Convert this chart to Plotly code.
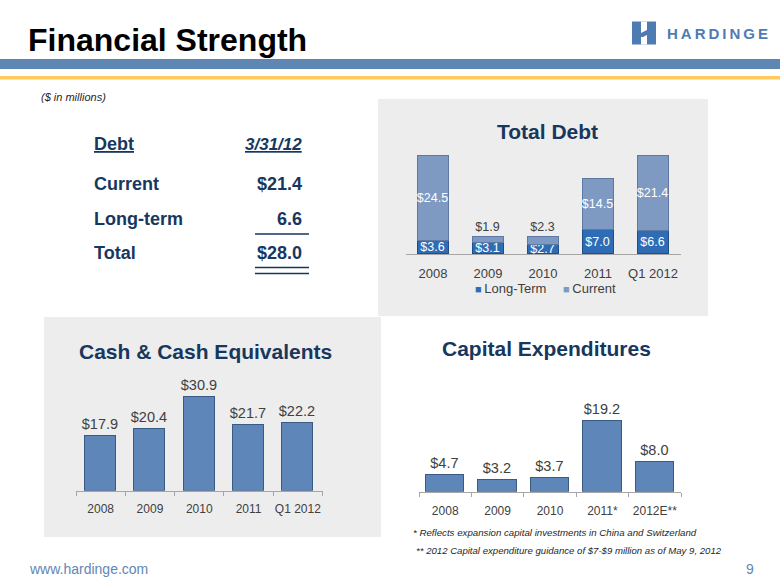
import plotly.graph_objects as go

W, H = 780, 585

def X(px):
    return px / W

def Y(py):
    return 1 - py / H

FONT = "Arial, Liberation Sans, sans-serif"
NAVY = "#17375E"
GREY_TXT = "#404040"
C_LONG = "#2E6DB5"
C_CUR = "#7F9AC2"

# ---------------- data ----------------
debt_cats = ["2008", "2009", "2010", "2011", "Q1 2012"]
debt_long = [3.6, 3.1, 2.7, 7.0, 6.6]
debt_current = [24.5, 1.9, 2.3, 14.5, 21.4]

cash_cats = ["2008", "2009", "2010", "2011", "Q1 2012"]
cash_vals = [17.9, 20.4, 30.9, 21.7, 22.2]

capex_cats = ["2008", "2009", "2010", "2011*", "2012E**"]
capex_vals = [4.7, 3.2, 3.7, 19.2, 8.0]

table_rows = ["Current", "Long-term", "Total"]
table_vals = ["$21.4", "6.6", "$28.0"]

fig = go.Figure()

# ---------------- Total Debt (stacked) ----------------
cur_pos = ["outside" if v < 5 else "inside" for v in debt_current]
fig.add_trace(go.Bar(
    x=debt_cats, y=debt_long, name="Long-Term", showlegend=False,
    marker=dict(color=C_LONG, line=dict(color="#1F4F8A", width=1)),
    text=[f"${v:.1f}" for v in debt_long], textposition="inside",
    insidetextanchor="middle", textangle=0, constraintext="none",
    insidetextfont=dict(color="white", size=12.5, family=FONT),
    width=0.58, xaxis="x", yaxis="y", hoverinfo="skip",
))
fig.add_trace(go.Bar(
    x=debt_cats, y=debt_current, name="Current", showlegend=False,
    marker=dict(color=C_CUR, line=dict(color="#5C78A3", width=1)),
    text=[f"${v:.1f}" for v in debt_current], textposition=cur_pos,
    insidetextanchor="middle", textangle=0, constraintext="none",
    insidetextfont=dict(color="white", size=12.5, family=FONT),
    outsidetextfont=dict(color=GREY_TXT, size=12.5, family=FONT),
    width=0.58, xaxis="x", yaxis="y", hoverinfo="skip",
))

# ---------------- Cash ----------------
fig.add_trace(go.Bar(
    x=cash_cats, y=cash_vals, showlegend=False,
    marker=dict(color="#5E86B9", line=dict(color="#3A5A86", width=1.2)),
    text=[f"${v:.1f}" for v in cash_vals], textposition="outside",
    textangle=0, constraintext="none",
    outsidetextfont=dict(color=GREY_TXT, size=14.5, family=FONT),
    width=0.63, xaxis="x2", yaxis="y2", hoverinfo="skip", cliponaxis=False,
))

# ---------------- Capex ----------------
fig.add_trace(go.Bar(
    x=capex_cats, y=capex_vals, showlegend=False,
    marker=dict(color="#5E86B9", line=dict(color="#3A5A86", width=1.2)),
    text=[f"${v:.1f}" for v in capex_vals], textposition="outside",
    textangle=0, constraintext="none",
    outsidetextfont=dict(color=GREY_TXT, size=14.5, family=FONT),
    width=0.73, xaxis="x3", yaxis="y3", hoverinfo="skip", cliponaxis=False,
))

xcommon = dict(type="category", showgrid=False, zeroline=False, showline=True,
               linecolor="#A6A6A6", linewidth=1, tickson="boundaries",
               ticks="outside", ticklen=4, tickcolor="#A6A6A6", tickangle=0,
               fixedrange=True)
ycommon = dict(visible=False, showgrid=False, zeroline=False, fixedrange=True)

shapes = []
# header bands
shapes.append(dict(type="rect", xref="paper", yref="paper", x0=0, x1=1,
                   y0=Y(69), y1=Y(59), fillcolor="#5F87B4", line=dict(width=0), layer="below"))
shapes.append(dict(type="rect", xref="paper", yref="paper", x0=0, x1=1,
                   y0=Y(79.5), y1=Y(76), fillcolor="#FFC95C", line=dict(width=0), layer="below"))
# panels
shapes.append(dict(type="rect", xref="paper", yref="paper", x0=X(378), x1=X(708),
                   y0=Y(316), y1=Y(99), fillcolor="#EDEDED", line=dict(width=0), layer="below"))
shapes.append(dict(type="rect", xref="paper", yref="paper", x0=X(44), x1=X(381),
                   y0=Y(537), y1=Y(317), fillcolor="#EDEDED", line=dict(width=0), layer="below"))
# logo icon
shapes.append(dict(type="rect", xref="paper", yref="paper", x0=X(632), x1=X(656),
                   y0=Y(44.5), y1=Y(21.5), fillcolor="#4F7BB3", line=dict(width=0)))
def path(pts):
    return "M " + " L ".join(f"{X(a)},{Y(b)}" for a, b in pts) + " Z"
shapes.append(dict(type="path", xref="paper", yref="paper",
                   path=path([(641, 21.5), (647, 21.5), (647, 30), (641, 33)]),
                   fillcolor="white", line=dict(width=0)))
shapes.append(dict(type="path", xref="paper", yref="paper",
                   path=path([(641, 44.5), (647, 44.5), (647, 35), (643, 37), (641, 37)]),
                   fillcolor="white", line=dict(width=0)))
# table underlines
for yy in [234, 267.5, 273.5]:
    shapes.append(dict(type="line", xref="paper", yref="paper", x0=X(255), x1=X(309),
                       y0=Y(yy), y1=Y(yy), line=dict(color=NAVY, width=1.6)))

ann = []
def text(x, y, s, size, color, bold=False, italic=False, xanchor="left", **kw):
    if bold:
        s = f"<b>{s}</b>"
    if italic:
        s = f"<i>{s}</i>"
    ann.append(dict(x=X(x), y=Y(y), xref="paper", yref="paper", text=s, showarrow=False,
                    xanchor=xanchor, yanchor="middle",
                    font=dict(size=size, color=color, family=FONT), **kw))

text(26, 40, "Financial Strength", 32, "black", bold=True)
text(665, 33, "H\u2009A\u2009R\u2009D\u2009I\u2009N\u2009G\u2009E", 15, "#4F7BB3", bold=True)
text(39, 97, "($ in millions)", 11, "#262626", italic=True)
text(547, 131, "Total Debt", 21, NAVY, bold=True, xanchor="center")
text(205, 351, "Cash &amp; Cash Equivalents", 21, NAVY, bold=True, xanchor="center")
text(546, 348, "Capital Expenditures", 21, NAVY, bold=True, xanchor="center")

# legend for Total Debt
text(473, 288, f'<span style="color:{C_LONG};font-size:11px">■</span>\u2009Long-Term', 13, GREY_TXT)
text(561, 288, f'<span style="color:{C_CUR};font-size:11px">■</span>\u2009Current', 13, GREY_TXT)

# table
text(92, 144, "<u>Debt</u>", 18, NAVY, bold=True)
text(304, 144, "<u>3/31/12</u>", 17, NAVY, bold=True, italic=True, xanchor="right")
for lbl, val, yy in zip(table_rows, table_vals, [184, 219, 253]):
    text(92, yy, lbl, 18, NAVY, bold=True)
    text(304, yy, val, 18, NAVY, bold=True, xanchor="right")

# footnotes
text(411, 532, "* Reflects expansion capital investments in China and Switzerland", 9.7, "#262626", italic=True)
text(414, 550, "** 2012 Capital expenditure guidance of $7-$9 million as of May 9, 2012", 9.6, "#262626", italic=True)
text(27, 569, "www.hardinge.com", 14, "#5F87B4")
text(756, 569, "9", 14, "#5F87B4", xanchor="right")

fig.update_layout(
    width=W, height=H, margin=dict(l=0, r=0, t=0, b=0),
    paper_bgcolor="white", plot_bgcolor="rgba(0,0,0,0)",
    barmode="stack", bargap=0, showlegend=False,
    font=dict(family=FONT, color=GREY_TXT),
    xaxis=dict(domain=[X(405.5), X(680.5)], anchor="y", **{**xcommon, "ticks": ""},
               tickfont=dict(size=13, color=GREY_TXT), ticklabelstandoff=7),
    yaxis=dict(domain=[Y(254), Y(150)], range=[0, 104 / 3.5], anchor="x", **ycommon),
    xaxis2=dict(domain=[X(76), X(322.5)], anchor="y2", **xcommon,
                tickfont=dict(size=12, color=GREY_TXT), ticklabelstandoff=7),
    yaxis2=dict(domain=[Y(490.7), Y(390)], range=[0, 100.7 / 3.03], anchor="x2", **ycommon),
    xaxis3=dict(domain=[X(419), X(681)], anchor="y3", **xcommon,
                tickfont=dict(size=12, color=GREY_TXT), ticklabelstandoff=8),
    yaxis3=dict(domain=[Y(491.7), Y(410)], range=[0, 81.7 / 3.66], anchor="x3", **ycommon),
    shapes=shapes, annotations=ann,
)

fig.write_html("out.html", config={"displayModeBar": False},
               post_script="document.body.style.margin='0';document.body.style.overflow='hidden';")
